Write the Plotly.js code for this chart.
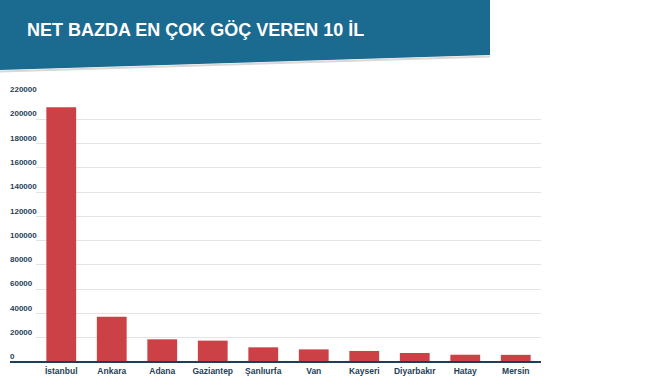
<!DOCTYPE html>
<html><head><meta charset="utf-8">
<script src="https://cdn.plot.ly/plotly-3.0.1.min.js"></script>
<style>html,body{margin:0;padding:0;background:#fff}#chart{width:670px;height:387px}</style>
</head><body><div id="chart"></div>
<script>
const cities = ["İstanbul","Ankara","Adana","Gaziantep","Şanlıurfa","Van","Kayseri","Diyarbakır","Hatay","Mersin"];
const netMigration = [210000,37300,18700,17600,12100,10400,9100,7400,6000,5900];
const yTicks = [0,20000,40000,60000,80000,100000,120000,140000,160000,180000,200000,220000];
const titleText = "NET BAZDA EN ÇOK GÖÇ VEREN 10 İL";

const W=670,H=387, L=36, R=129, T=95, B=25;
const pw=W-L-R, ph=H-T-B;
const fx = p => (p-L)/pw;
const fy = p => (H-B-p)/ph;
const font = "'Liberation Sans',Arial,sans-serif";
const navy = "#1f3f58";

const banner = `M ${fx(0)} ${fy(0)} L ${fx(490)} ${fy(0)} L ${fx(490)} ${fy(55)} L ${fx(0)} ${fy(70)} Z`;

Plotly.newPlot('chart', [{
  type:'bar', x:cities, y:netMigration,
  marker:{color:'#cc4146'}, hoverinfo:'x+y'
}], {
  width:W, height:H,
  margin:{l:L,r:R,t:T,b:B,pad:0},
  paper_bgcolor:'#fff', plot_bgcolor:'#fff',
  bargap:0.41,
  showlegend:false,
  title:{text:titleText, x:27/W, xanchor:'left', xref:'container', yref:'container', y:1-30/H, yanchor:'middle',
    font:{family:font, size:18, color:'#ffffff', weight:'bold'}},
  xaxis:{type:'category', range:[-0.5,9.5], showgrid:false, zeroline:false, showline:false,
    ticks:'', ticklabelstandoff:2, tickfont:{family:font, size:8.5, color:navy, weight:'bold'}, fixedrange:true},
  yaxis:{range:[0,220000], tickvals:yTicks, ticktext:yTicks.map(String), showgrid:true, gridcolor:'#e4e4e4', gridwidth:1,
    zeroline:false, showline:false, ticks:'',
    ticklabelposition:'inside top', ticklabelstandoff:-29, ticklabeloverflow:'allow',
    tickfont:{family:font, size:8, color:navy, weight:'bold'}, fixedrange:true},
  shapes:[
    {type:'path', xref:'paper', yref:'paper', path:banner, fillcolor:'#1b6a8f', line:{width:0}, layer:'below'},
    {type:'line', xref:'paper', yref:'paper', x0:fx(0), y0:fy(71.5), x1:fx(490), y1:fy(56.5), line:{color:'#d8d8d8', width:2}},
    {type:'line', xref:'paper', yref:'paper', x0:fx(10), y0:0, x1:1, y1:0, line:{color:navy, width:2}}
  ]
}, {displayModeBar:false, staticPlot:true});
</script></body></html>
